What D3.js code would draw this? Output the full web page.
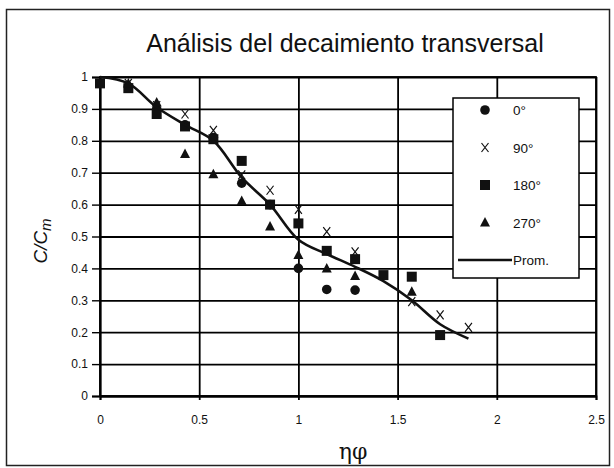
<!DOCTYPE html>
<html>
<head>
<meta charset="utf-8">
<script src="https://cdnjs.cloudflare.com/ajax/libs/d3/7.8.5/d3.min.js"></script>
<style>
  body { margin: 0; background: #fff; }
  svg { font-family: "Liberation Sans", Arial, sans-serif; }
  .tick text { font-size: 12px; fill: #111; }
</style>
</head>
<body>
<div id="chart"></div>
<script>
//
// Data
//
var xs = [0, 1/7, 2/7, 3/7, 4/7, 5/7, 6/7, 1, 8/7, 9/7, 10/7, 11/7, 12/7, 13/7];

var deg0   = [null, 0.97, 0.90, 0.85, 0.81, 0.667, 0.60, 0.40, 0.334, 0.332, null, null, null, null];
var deg90  = [null, 0.98, 0.91, 0.884, 0.833, 0.693, 0.645, 0.585, 0.515, 0.452, null, 0.296, 0.254, 0.215];
var deg180 = [0.98, 0.965, 0.884, 0.845, 0.805, 0.737, 0.60, 0.541, 0.455, 0.429, 0.379, 0.374, 0.191, null];
var deg270 = [null, 0.98, 0.92, 0.759, 0.695, 0.611, 0.531, 0.442, 0.40, 0.376, null, 0.327, null, null];
var prom   = [1.0, 0.98, 0.905, 0.85, 0.80, 0.685, 0.60, 0.49, 0.445, 0.405, 0.36, 0.30, 0.225, 0.18];

var xTicks = [0, 0.5, 1, 1.5, 2, 2.5];
var yTicks = [0, 0.1, 0.2, 0.3, 0.4, 0.5, 0.6, 0.7, 0.8, 0.9, 1];

var legendLabels = ["0°", "90°", "180°", "270°", "Prom."];

//
// Layout
//
var W = 614, H = 468;
var margin = {top: 77, right: 18, bottom: 72, left: 100},
    width  = 596 - margin.left,
    height = 396 - margin.top;

var svg = d3.select("#chart").append("svg")
    .attr("width", W)
    .attr("height", H);

// outer frame
svg.append("rect")
    .attr("x", 6.5).attr("y", 9.5)
    .attr("width", 603).attr("height", 456)
    .attr("fill", "none")
    .attr("stroke", "#222")
    .attr("stroke-width", 1.5);

svg.append("text")
    .attr("x", 345).attr("y", 52)
    .attr("text-anchor", "middle")
    .style("font-size", "25px")
    .attr("fill", "#111")
    .text("Análisis del decaimiento transversal");

var g = svg.append("g")
    .attr("transform", "translate(" + margin.left + "," + margin.top + ")");

var x = d3.scaleLinear().domain([0, 2.5]).range([0, width]);
var y = d3.scaleLinear().domain([0, 1]).range([height, 0]);

// gridlines
var gy = g.append("g")
    .call(d3.axisLeft(y).tickValues(yTicks).tickSize(-width).tickFormat(""));
gy.select(".domain").remove();
gy.selectAll("line").attr("stroke", "#000").attr("stroke-width", 1.8);

var gx = g.append("g")
    .call(d3.axisBottom(x).tickValues(xTicks).tickSize(height).tickFormat(""));
gx.select(".domain").remove();
gx.selectAll("line").attr("stroke", "#000").attr("stroke-width", 1.8);

// plot border
g.append("rect")
    .attr("width", width).attr("height", height)
    .attr("fill", "none").attr("stroke", "#000").attr("stroke-width", 1.8);

// axes
var yAxis = g.append("g")
    .call(d3.axisLeft(y).tickValues(yTicks).tickSize(8).tickPadding(4)
        .tickFormat(function(d) { return d === 0 || d === 1 ? d3.format("d")(d) : d3.format(".1f")(d); }));
yAxis.select(".domain").attr("stroke", "#000").attr("stroke-width", 1.8);
yAxis.selectAll(".tick line").attr("stroke", "#000").attr("stroke-width", 1.4);

var xAxis = g.append("g")
    .attr("transform", "translate(0," + height + ")")
    .call(d3.axisBottom(x).tickValues(xTicks).tickSize(4).tickPadding(15)
        .tickFormat(function(d) { return d; }));
xAxis.select(".domain").attr("stroke", "#000").attr("stroke-width", 1.8);
xAxis.selectAll(".tick line").attr("stroke", "#000").attr("stroke-width", 1.8);

// axis titles
svg.append("text")
    .attr("x", 353).attr("y", 459)
    .attr("text-anchor", "middle")
    .style("font-family", "'DejaVu Serif', serif")
    .style("font-size", "22px")
    .attr("fill", "#111")
    .text("ηφ");

var yl = svg.append("text")
    .attr("transform", "translate(47,241) rotate(-90)")
    .attr("text-anchor", "middle")
    .style("font-size", "19px")
    .style("font-style", "italic")
    .attr("fill", "#111");
yl.append("tspan").text("C/C");
yl.append("tspan").attr("dy", 4).style("font-size", "15px").text("m");

// marker drawing
function drawMarker(sel, type) {
    if (type == "circle") {
        sel.append("circle").attr("r", 4.8).attr("fill", "#111");
    } else if (type == "square") {
        sel.append("rect").attr("x", -5).attr("y", -5).attr("width", 10).attr("height", 10).attr("fill", "#111");
    } else if (type == "triangle") {
        sel.append("path").attr("d", "M0,-5.5L5,4L-5,4Z").attr("fill", "#111");
    } else {
        sel.append("path").attr("d", "M-3.5,-4.5L3.5,4.5M3.5,-4.5L-3.5,4.5")
            .attr("stroke", "#111").attr("stroke-width", 1.2).attr("fill", "none");
    }
}

var series = [
    {vals: deg0, type: "circle"},
    {vals: deg90, type: "x"},
    {vals: deg180, type: "square"},
    {vals: deg270, type: "triangle"}
];

series.forEach(function(s) {
    var pts = xs.map(function(xv, i) { return {x: xv, y: s.vals[i]}; })
        .filter(function(d) { return d.y != null; });
    g.append("g").selectAll("g")
        .data(pts)
        .enter().append("g")
        .attr("transform", function(d) { return "translate(" + x(d.x) + "," + y(d.y) + ")"; })
        .each(function() { drawMarker(d3.select(this), s.type); });
});

// average line
var line = d3.line()
    .x(function(d, i) { return x(xs[i]); })
    .y(function(d) { return y(d); })
    .curve(d3.curveCatmullRom.alpha(0.5));

g.append("path")
    .datum(prom)
    .attr("d", line)
    .attr("fill", "none")
    .attr("stroke", "#111")
    .attr("stroke-width", 2.6);

// legend
var lg = svg.append("g").attr("transform", "translate(453,98)");
lg.append("rect")
    .attr("width", 126).attr("height", 180)
    .attr("fill", "#fff").attr("stroke", "#000").attr("stroke-width", 1.5);

var legTypes = ["circle", "x", "square", "triangle", "line"];
legendLabels.forEach(function(lab, i) {
    var ey = 12 + i * 37.5;
    var e = lg.append("g").attr("transform", "translate(0," + ey + ")");
    if (legTypes[i] == "line") {
        e.append("line").attr("x1", 5).attr("x2", 59).attr("y1", 0).attr("y2", 0)
            .attr("stroke", "#111").attr("stroke-width", 2.6);
    } else {
        drawMarker(e.append("g").attr("transform", "translate(32,0)"), legTypes[i]);
    }
    e.append("text").attr("x", 60).attr("y", 5).style("font-size", "13.5px").attr("fill", "#111").text(lab);
});
</script>
</body>
</html>
